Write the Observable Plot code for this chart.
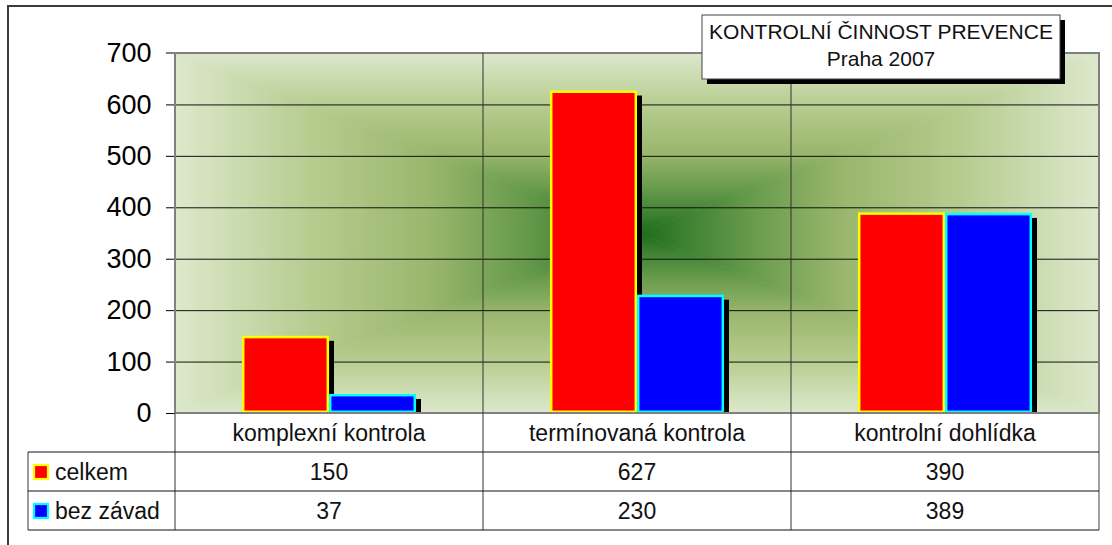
<!DOCTYPE html>
<html>
<head>
<meta charset="utf-8">
<script src="https://cdn.jsdelivr.net/npm/d3@7"></script>
<script src="https://cdn.jsdelivr.net/npm/@observablehq/plot@0.6"></script>
<style>
  html, body { margin: 0; padding: 0; background: #fff; }
</style>
</head>
<body>
<div id="chart"></div>
<script>
// ---- data ----
const categories = ["komplexní kontrola", "termínovaná kontrola", "kontrolní dohlídka"];
const seriesNames = ["celkem", "bez závad"];
const celkem = [150, 627, 390];
const bezZavad = [37, 230, 389];
const yTicks = [0, 100, 200, 300, 400, 500, 600, 700];
const gridValues = [100, 200, 300, 400, 500, 600];
const titleLines = ["KONTROLNÍ ČINNOST PREVENCE", "Praha 2007"];

// ---- styles ----
const fills = {"celkem": "#ff0000", "bez závad": "#0000ff"};
const strokes = {"celkem": "#ffff00", "bez závad": "#00ffff"};
const FONT = "'Liberation Sans', Arial, Helvetica, sans-serif";

const seriesValues = {"celkem": celkem, "bez závad": bezZavad};
const data = [];
categories.forEach((c, i) => {
  seriesNames.forEach(s => data.push({category: c, series: s, value: seriesValues[s][i]}));
});

const barMarks = [];
seriesNames.forEach(s => {
  const d = data.filter(r => r.series === s);
  barMarks.push(Plot.barY(d, {fx: "category", x: "series", y: "value", fill: "black", dx: 5, dy: 5, insetBottom: 5}));
  barMarks.push(Plot.barY(d, {fx: "category", x: "series", y: "value", fill: fills[s], stroke: strokes[s], strokeWidth: 2.5, inset: 1.2}));
});

const plot = Plot.plot({
  width: 1112,
  height: 545,
  marginLeft: 174,
  marginRight: 12,
  marginTop: 53,
  marginBottom: 132,
  style: {fontFamily: FONT, fontSize: "27px", color: "black", background: "white", overflow: "visible"},
  fx: {domain: categories, padding: 0, axis: null},
  x: {domain: seriesNames, paddingInner: 0, paddingOuter: 0.754, axis: null},
  y: {domain: [0, 700], ticks: yTicks, tickSize: 9, tickPadding: 15, tickFormat: d => String(d), label: null},
  marks: [
    Plot.ruleY(gridValues, {stroke: "#111", strokeWidth: 1}),
    ...barMarks,
    Plot.ruleY([0], {stroke: "#111", strokeWidth: 1.2})
  ]
});

document.getElementById("chart").appendChild(plot);

// ---- decorations using the library's scales ----
const svg = d3.select(plot);
const ys = plot.scale("y");
const fxs = plot.scale("fx");
const x0 = fxs.apply(categories[0]);
const bw = fxs.bandwidth;
const x1 = fxs.apply(categories[categories.length - 1]) + bw;
const yTop = ys.apply(700);
const yBot = ys.apply(0);
const cx = (x0 + x1) / 2, cy = (yTop + yBot) / 2;

// background gradient (rectangular "from center")
const bg = svg.insert("g", ":first-child");
const defs = bg.append("defs");
const stops = [[0, "#dde8cc"], [0.3, "#b5cc8e"], [0.55, "#9ab76d"], [0.75, "#689b4c"], [0.9, "#3c8031"], [1, "#1d6b1b"]];
const tris = [
  {id: "gT", from: [cx, yTop], pts: [[x0, yTop], [x1, yTop], [cx, cy]]},
  {id: "gB", from: [cx, yBot], pts: [[x0, yBot], [x1, yBot], [cx, cy]]},
  {id: "gL", from: [x0, cy], pts: [[x0, yTop], [x0, yBot], [cx, cy]]},
  {id: "gR", from: [x1, cy], pts: [[x1, yTop], [x1, yBot], [cx, cy]]}
];
tris.forEach(t => {
  const g = defs.append("linearGradient").attr("id", t.id).attr("gradientUnits", "userSpaceOnUse")
    .attr("x1", t.from[0]).attr("y1", t.from[1]).attr("x2", cx).attr("y2", cy);
  stops.forEach(([o, c]) => g.append("stop").attr("offset", o).attr("stop-color", c));
});
tris.forEach(t => {
  bg.append("polygon").attr("points", t.pts.map(p => p.join(",")).join(" "))
    .attr("fill", `url(#${t.id})`).attr("stroke", `url(#${t.id})`).attr("stroke-width", 0.6);
});

// outer chart border
svg.append("rect").attr("x", 8).attr("y", 6).attr("width", 1120).attr("height", 560)
  .attr("fill", "none").attr("stroke", "#3a3a3a").attr("stroke-width", 2);

// plot area border
svg.append("rect").attr("x", x0).attr("y", yTop).attr("width", x1 - x0).attr("height", yBot - yTop)
  .attr("fill", "none").attr("stroke", "#808080").attr("stroke-width", 2);
svg.append("line").attr("x1", x0 - 9).attr("x2", x0).attr("y1", yTop).attr("y2", yTop)
  .attr("stroke", "#808080").attr("stroke-width", 2);

// data table
const rowH = 39;
const rowTops = [yBot, yBot + rowH, yBot + 2 * rowH];
const tableBottom = yBot + 3 * rowH;
const legendLeft = 28;
const tg = svg.append("g").attr("text-anchor", "start");
// vertical category separators (through plot and table)
categories.slice(1).forEach(c => {
  const x = fxs.apply(c);
  tg.append("line").attr("x1", x).attr("x2", x).attr("y1", yTop).attr("y2", tableBottom)
    .attr("stroke", "#333").attr("stroke-width", 1);
});
tg.append("line").attr("x1", x0).attr("x2", x0).attr("y1", yBot).attr("y2", tableBottom).attr("stroke", "#333");
tg.append("line").attr("x1", x1).attr("x2", x1).attr("y1", yBot).attr("y2", tableBottom).attr("stroke", "#808080").attr("stroke-width", 1.5);
tg.append("line").attr("x1", legendLeft).attr("x2", legendLeft).attr("y1", rowTops[1]).attr("y2", tableBottom).attr("stroke", "#333");
[rowTops[1], rowTops[2], tableBottom].forEach(y => {
  tg.append("line").attr("x1", legendLeft).attr("x2", x1).attr("y1", y).attr("y2", y).attr("stroke", "#111");
});
const textBase = (top) => top + rowH / 2 + 8;
categories.forEach((c, i) => {
  const xc = fxs.apply(c) + bw / 2;
  tg.append("text").attr("x", xc).attr("y", textBase(rowTops[0])).attr("text-anchor", "middle")
    .style("font-size", "23px").style("font-family", FONT).attr("fill", "#111").text(c);
  seriesNames.forEach((s, j) => {
    tg.append("text").attr("x", xc).attr("y", textBase(rowTops[j + 1])).attr("text-anchor", "middle")
      .style("font-size", "23px").style("font-family", FONT).attr("fill", "#111").text(seriesValues[s][i]);
  });
});
seriesNames.forEach((s, j) => {
  const top = rowTops[j + 1];
  tg.append("rect").attr("x", 34).attr("y", top + rowH / 2 - 6.5).attr("width", 14).attr("height", 14)
    .attr("fill", fills[s]).attr("stroke", strokes[s]).attr("stroke-width", 2.2);
  tg.append("text").attr("x", 55).attr("y", textBase(top)).attr("text-anchor", "start")
    .style("font-size", "23px").style("font-family", FONT).attr("fill", "#111").text(s);
});

// title box
const tb = svg.append("g");
const bx = 702, by = 15, bwid = 358, bh = 64;
tb.append("rect").attr("x", bx + 5).attr("y", by + 5).attr("width", bwid).attr("height", bh).attr("fill", "black");
tb.append("rect").attr("x", bx).attr("y", by).attr("width", bwid).attr("height", bh).attr("fill", "white")
  .attr("stroke", "#444").attr("stroke-width", 1);
titleLines.forEach((t, i) => {
  tb.append("text").attr("x", bx + bwid / 2).attr("y", 39 + i * 27).attr("text-anchor", "middle")
    .style("font-size", "21px").style("font-family", FONT).attr("fill", "#111").text(t);
});
</script>
</body>
</html>
